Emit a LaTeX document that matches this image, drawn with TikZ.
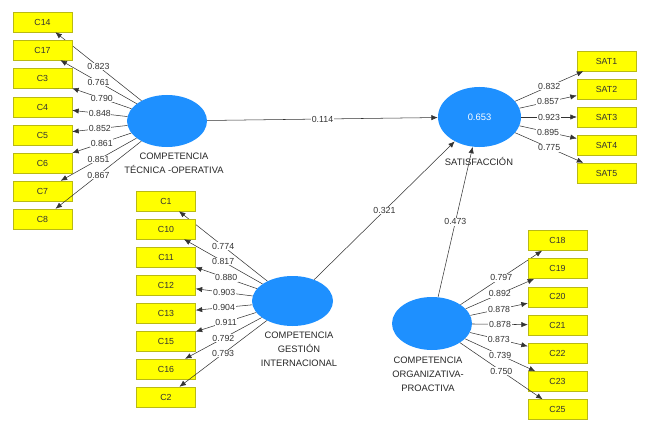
\documentclass[tikz,border=0pt]{standalone}
\usepackage{fontspec}
\setmainfont{Liberation Sans}
\usetikzlibrary{shapes.geometric,arrows.meta}
\definecolor{lvblue}{RGB}{30,144,255}
\definecolor{mvyellow}{RGB}{255,255,0}
\definecolor{mvedge}{RGB}{185,185,20}

\begin{document}
\begin{tikzpicture}[x=0.03cm, y=-0.03cm,
    latent/.style={ellipse, fill=lvblue, inner sep=0pt},
    item/.style={draw=mvedge, fill=mvyellow, rectangle, minimum width=1.77cm, minimum height=0.6cm, inner sep=0pt, font=\fontsize{7.5}{9}\selectfont, text=black!80},
    load/.style={-{Latex[length=5.5pt,width=4.5pt]}, black!80, line width=0.45pt},
    coef/.style={fill=white, inner sep=0.6pt, font=\fontsize{7.5}{9}\selectfont, text=black!80},
    caption/.style={align=center, font=\fontsize{8}{12}\selectfont, text=black!85}]
    \useasboundingbox (0,0) rectangle (651,425);

    % Latent constructs
    \node[latent, minimum width=2.4cm, minimum height=1.56cm] (to) at (167, 121) {};
    \node[latent, minimum width=2.43cm, minimum height=1.5cm] (gi) at (292.5, 301) {};
    \node[latent, minimum width=2.4cm, minimum height=1.59cm] (op) at (432, 323.5) {};
    \node[latent, minimum width=2.49cm, minimum height=1.8cm, text=white, font=\fontsize{8}{9}\selectfont] (sat) at (479.5, 117) {0.653};

    % Construct names
    \node[caption] (capto) at (174, 163) {COMPETENCIA\\TÉCNICA -OPERATIVA};
    \node[caption] (capgi) at (299, 349) {COMPETENCIA\\GESTIÓN\\INTERNACIONAL};
    \node[caption] (capop) at (428, 374) {COMPETENCIA\\ORGANIZATIVA-\\PROACTIVA};
    \node[caption] (capsat) at (479, 161) {SATISFACCIÓN};

    % Técnica-operativa indicators
    \foreach \n/\t/\y/\v in {c14/C14/22/0.823, c17/C17/50/0.761, c3/C3/78/0.790, c4/C4/107/0.848,
                             c5/C5/135/0.852, c6/C6/163/0.861, c7/C7/191/0.851, c8/C8/219/0.867}{
        \node[item] (\n) at (42.5, \y) {\t};
        \draw[load] (to) -- node[coef] {\v} (\n);
    }

    % Gestión internacional indicators
    \foreach \n/\t/\y/\v in {c1/C1/201/0.774, c10/C10/229/0.817, c11/C11/257/0.880, c12/C12/285/0.903,
                             c13/C13/313/0.904, c15/C15/341/0.911, c16/C16/369/0.792, c2/C2/397/0.793}{
        \node[item] (\n) at (166, \y) {\t};
        \draw[load] (gi) -- node[coef] {\v} (\n);
    }

    % Organizativa-proactiva indicators
    \foreach \n/\t/\y/\v in {c18/C18/240.5/0.797, c19/C19/268.7/0.892, c20/C20/296.9/0.878, c21/C21/325/0.878,
                             c22/C22/353.3/0.873, c23/C23/381.5/0.739, c25/C25/409.5/0.750}{
        \node[item] (\n) at (557.5, \y) {\t};
        \draw[load] (op) -- node[coef] {\v} (\n);
    }

    % Satisfacción indicators
    \foreach \n/\t/\y/\v in {sat1/SAT1/61/0.832, sat2/SAT2/89/0.857, sat3/SAT3/117/0.923,
                             sat4/SAT4/145/0.895, sat5/SAT5/173/0.775}{
        \node[item] (\n) at (606.5, \y) {\t};
        \draw[load] (sat) -- node[coef] {\v} (\n);
    }

    % Path coefficients
    \draw[load] (to) -- node[coef] {0.114} (sat);
    \draw[load] (gi) -- node[coef] {0.321} (sat);
    \draw[load] (op) -- node[coef] {0.473} (sat);
\end{tikzpicture}
\end{document}
